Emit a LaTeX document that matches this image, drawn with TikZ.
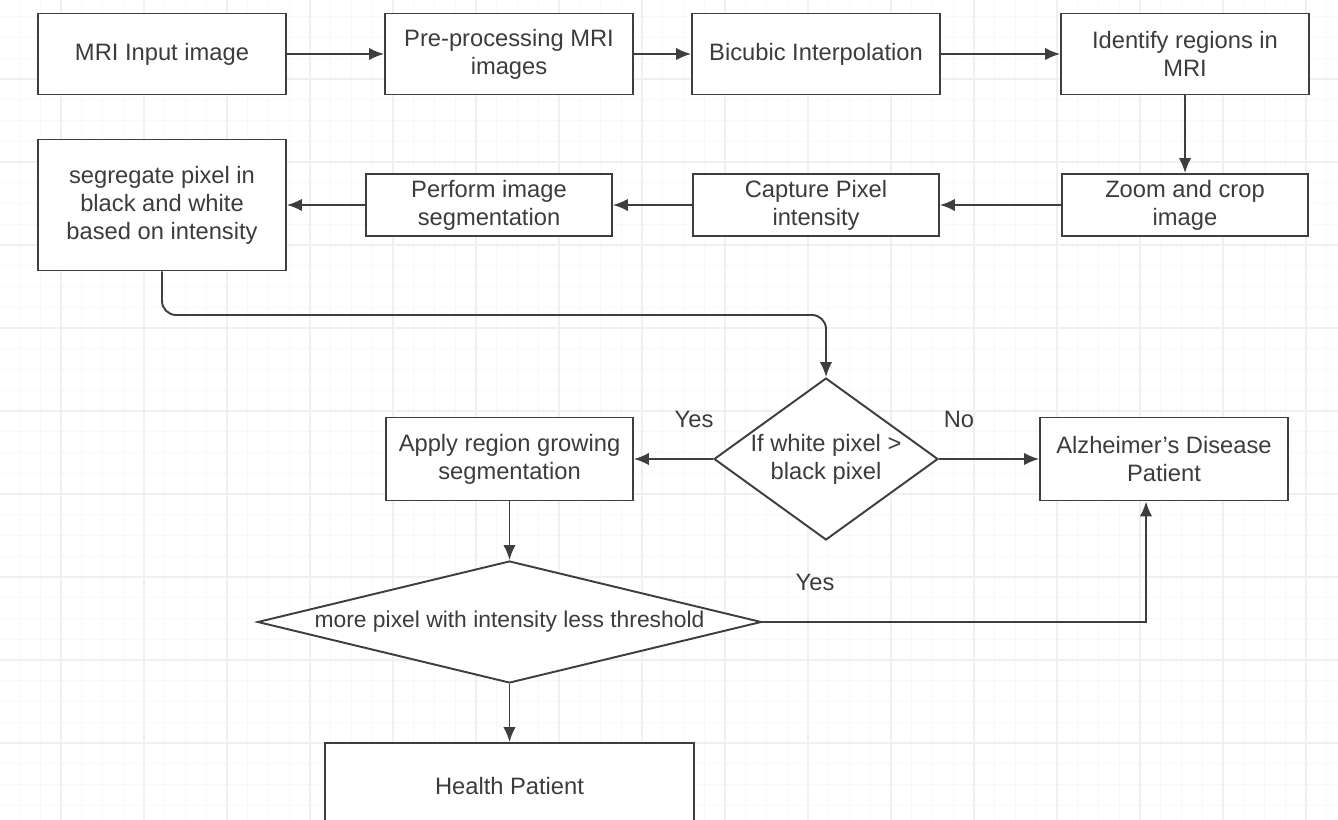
\documentclass[tikz,border=0pt]{standalone}
\usepackage{fontspec}
\setmainfont{Liberation Sans}
\usepackage{tikz}
\usetikzlibrary{arrows.meta,positioning,calc,shapes.geometric}
\definecolor{fcedge}{RGB}{62,62,62}
\definecolor{fcink}{RGB}{60,60,60}
\definecolor{fcgrid}{RGB}{248,248,248}
\definecolor{fcgridmaj}{RGB}{240,240,240}
\tikzset{
  fcbox/.style={
    draw=fcedge, line width=1.1pt, fill=white,
    align=center, text=fcink, inner sep=2pt,
    font=\fontsize{13.5}{16}\selectfont
  },
  proc/.style={fcbox, minimum width=4.96cm, minimum height=1.62cm},
  slim/.style={fcbox, minimum width=4.92cm, minimum height=1.24cm},
  dec/.style={fcbox, shape=diamond, inner sep=0pt},
  arr/.style={-{Latex[length=3mm,width=2.5mm]}, draw=fcedge, line width=1.1pt},
  anno/.style={text=fcink, font=\fontsize{13.5}{16}\selectfont},
  gridmin/.style={draw=fcgrid, line width=0.4pt},
  gridmaj/.style={draw=fcgridmaj, line width=0.6pt}
}

\begin{document}
\begin{tikzpicture}[x=0.02cm, y=-0.02cm]
  \useasboundingbox (0,0) rectangle (1338,820);
  \clip (0,0) rectangle (1338,820);
  % grid paper
  \foreach \k in {0,...,65} \draw[gridmin] ({-22+\k*20.75},0) -- ({-22+\k*20.75},820);
  \foreach \k in {0,...,40} \draw[gridmin] (0,{-4+\k*20.75}) -- (1338,{-4+\k*20.75});
  \foreach \k in {0,...,17} \draw[gridmaj] ({-22+\k*83},0) -- ({-22+\k*83},820);
  \foreach \k in {0,...,10} \draw[gridmaj] (0,{-4+\k*83}) -- (1338,{-4+\k*83});

  % first row
  \node[proc] (mri) at (162,54) {MRI Input image};
  \node[proc] (prep) at (509,54) {Pre-processing MRI\\images};
  \node[proc] (bicub) at (816,54) {Bicubic Interpolation};
  \node[proc] (ident) at (1185,54) {Identify regions in\\MRI};
  % second row
  \node[slim] (zoom) at (1185,205) {Zoom and crop\\image};
  \node[slim] (capt) at (816,205) {Capture Pixel\\intensity};
  \node[slim] (perf) at (489,205) {Perform image\\segmentation};
  \node[fcbox, minimum width=4.96cm, minimum height=2.62cm] (segr) at (162,205)
    {segregate pixel in\\black and white\\based on intensity};
  % decisions
  \node[dec, aspect=1.38, minimum width=4.48cm, minimum height=3.24cm] (dec1) at (826,459)
    {If white pixel >\\black pixel};
  \node[proc, minimum width=4.94cm, minimum height=1.66cm] (apply) at (509.5,459)
    {Apply region growing\\segmentation};
  \node[proc, minimum width=4.96cm, minimum height=1.66cm] (alz) at (1164,459)
    {Alzheimer's Disease\\Patient};
  \node[dec, aspect=4.13, minimum width=10.08cm, minimum height=2.44cm,
        font=\fontsize{13}{15}\selectfont] (dec2) at (509.5,622)
    {more pixel with intensity less threshold};
  \node[proc, minimum width=7.38cm, minimum height=1.74cm] (health) at (509.5,786.5)
    {Health Patient};

  \draw[arr] (mri) -- (prep);
  \draw[arr] (prep) -- (bicub);
  \draw[arr] (bicub) -- (ident);
  \draw[arr] (ident) -- (zoom);
  \draw[arr] (zoom) -- (capt);
  \draw[arr] (capt) -- (perf);
  \draw[arr] (perf) -- (segr);
  \draw[arr, rounded corners=8pt] (segr.south) -- (segr.south |- 0,315) -| (dec1.north);
  \draw[arr] (dec1.west) -- (apply.east);
  \draw[arr] (dec1.east) -- (alz.west);
  \draw[arr] (apply.south) -- (dec2.north);
  \draw[arr] (dec2.east) -| ([xshift=-3.6mm]alz.south);
  \draw[arr] (dec2.south) -- (health.north);

  \node[anno] (yes1) at (694,419) {Yes};
  \node[anno] (no1) at (959,419) {No};
  \node[anno] (yes2) at (815,582) {Yes};
\end{tikzpicture}
\end{document}
